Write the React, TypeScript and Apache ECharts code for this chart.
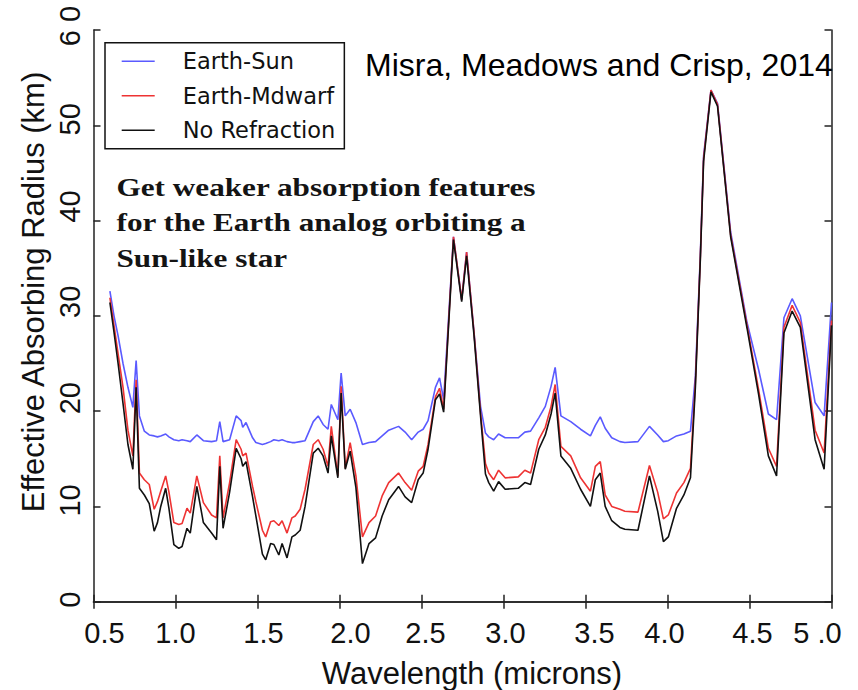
import React, { useEffect, useRef } from "react";
import * as echarts from "echarts";

// Wavelength grid (microns) shared by the three spectra
const wavelength = [
  0.6, 0.625, 0.65, 0.68, 0.71, 0.74, 0.76, 0.78, 0.81, 0.84, 0.87, 0.89, 0.91, 0.94, 0.96, 0.99,
  1.02, 1.04, 1.07, 1.09, 1.13, 1.17, 1.22, 1.25, 1.27, 1.29, 1.33, 1.37, 1.4, 1.41, 1.43, 1.47,
  1.49, 1.53, 1.55, 1.58, 1.6, 1.63, 1.65, 1.68, 1.71, 1.73, 1.76, 1.79, 1.84, 1.87, 1.9, 1.93,
  1.95, 1.99, 2.01, 2.035, 2.065, 2.1, 2.14, 2.18, 2.22, 2.26, 2.3, 2.36, 2.4, 2.44, 2.48, 2.51,
  2.54, 2.585, 2.61, 2.635, 2.695, 2.745, 2.775, 2.82, 2.86, 2.89, 2.91, 2.94, 2.97, 3.01, 3.09,
  3.13, 3.165, 3.215, 3.255, 3.29, 3.315, 3.35, 3.41, 3.47, 3.53, 3.56, 3.59, 3.62, 3.66, 3.71,
  3.74, 3.82, 3.89, 3.94, 3.975, 4.005, 4.055, 4.1, 4.14, 4.17, 4.2, 4.22, 4.265, 4.305, 4.385,
  4.485, 4.555, 4.615, 4.665, 4.71, 4.76, 4.81, 4.9, 4.955, 5.0,
];

// Effective absorbing radius (km)
const earthSun = [
  32.6, 30.0, 27.9, 25.0, 22.5, 20.4, 25.3, 19.5, 17.9, 17.5, 17.4, 17.3, 17.4, 17.6, 17.3, 17.0,
  16.9, 17.0, 16.9, 16.8, 17.5, 16.9, 16.8, 16.9, 18.9, 16.8, 17.0, 19.5, 19.0, 18.3, 18.8, 17.2,
  16.7, 16.5, 16.6, 16.8, 17.0, 16.9, 17.0, 16.8, 16.7, 16.7, 16.8, 16.9, 18.9, 19.5, 18.6, 18.1,
  20.7, 19.1, 24.0, 19.5, 20.2, 18.8, 16.5, 16.7, 16.8, 17.4, 18.0, 18.4, 17.8, 17.0, 17.8, 18.1,
  19.0, 22.5, 23.5, 21.2, 38.3, 31.7, 36.7, 28.3, 20.5, 17.7, 17.3, 17.0, 17.6, 17.2, 17.2,
  17.8, 17.9, 19.3, 20.5, 22.6, 24.6, 19.5, 18.9, 18.1, 17.4, 18.5, 19.4, 18.2, 17.2, 16.8,
  16.7, 16.8, 18.4, 17.5, 16.8, 16.9, 17.4, 17.6, 17.9, 23.7, 36.3, 46.8, 53.7, 52.3, 38.8,
  29.3, 24.4, 19.7, 19.1, 29.8, 31.8, 30.0, 20.9, 19.5, 31.4,
];

const earthMdwarf = [
  31.9, 29.0, 26.0, 22.5, 18.0, 15.3, 23.3, 13.5, 12.8, 12.3, 9.7, 10.5, 11.6, 13.2, 11.5, 8.3,
  8.1, 8.2, 9.8, 9.3, 13.2, 10.4, 9.1, 8.8, 15.3, 8.8, 12.5, 17.0, 16.0, 15.3, 15.6, 12.1,
  10.5, 7.5, 6.8, 8.4, 8.5, 8.0, 8.5, 7.2, 8.8, 9.0, 9.7, 11.8, 16.5, 17.0, 16.0, 14.2,
  18.4, 13.2, 22.6, 14.0, 16.7, 13.2, 6.8, 8.3, 9.0, 11.1, 12.5, 13.5, 12.5, 11.7, 13.7, 14.2,
  16.5, 21.5, 22.4, 20.2, 38.3, 31.7, 36.7, 28.3, 19.8, 14.5, 13.5, 12.8, 13.8, 13.0, 13.1,
  13.8, 13.5, 17.0, 18.3, 20.5, 22.8, 16.3, 15.3, 13.0, 11.6, 14.2, 14.7, 11.2, 10.0, 9.7,
  9.5, 9.4, 14.3, 11.5, 8.7, 9.1, 11.4, 12.5, 14.0, 23.0, 36.0, 46.5, 53.7, 52.2, 38.5,
  29.0, 22.3, 16.1, 14.2, 28.8, 31.1, 29.3, 18.0, 15.6, 29.5,
];

const noRefraction = [
  31.4, 28.3, 25.0, 20.8, 16.5, 13.9, 22.5, 11.9, 11.2, 10.3, 7.4, 8.3, 10.0, 11.9, 9.8, 6.0,
  5.6, 5.8, 7.7, 7.2, 12.1, 8.3, 7.2, 6.5, 14.2, 7.7, 11.5, 16.1, 15.0, 14.2, 14.7, 11.0,
  9.0, 5.0, 4.4, 6.1, 6.0, 4.9, 6.1, 4.6, 6.8, 7.0, 7.5, 10.0, 15.6, 16.1, 15.3, 13.5,
  17.4, 13.0, 21.9, 13.9, 15.8, 12.0, 4.0, 6.1, 6.7, 9.0, 10.7, 12.1, 11.0, 10.4, 12.8, 13.5,
  16.0, 21.2, 21.8, 19.9, 38.0, 31.5, 36.3, 28.0, 19.5, 13.4, 12.5, 11.6, 12.6, 11.8, 11.9,
  12.5, 12.3, 16.0, 17.5, 19.7, 21.9, 15.3, 14.0, 11.8, 10.0, 12.8, 13.5, 10.0, 8.5, 7.8,
  7.6, 7.5, 13.2, 9.5, 6.3, 6.8, 9.8, 11.2, 13.0, 22.5, 35.8, 46.2, 53.5, 52.0, 38.3,
  28.7, 21.8, 15.3, 13.2, 28.2, 30.5, 28.8, 17.0, 13.9, 29.0,
];

const seriesNames = ["Earth-Sun", "Earth-Mdwarf", "No Refraction"];
const seriesColors = ["#5a5aff", "#ee3333", "#111111"];

const xTickLabels = ["0.5", "1.0", "1.5", "2.0", "2.5", "3.0", "3.5", "4.0", "4.5", "5 .0"];
const yTickLabels = ["0", "10", "20", "30", "40", "50", "6 0"];

// small hand-set nudges of the tick labels (px): x rightward, y upward
const xLabelNudge = [11, 0, 6, 11, 4, 2, 9, -3, 3, -14];
const yLabelNudge = [2, 6, 13, 14, 14, 6, 4];

const SANS = '"Liberation Sans", Arial, Helvetica, sans-serif';

function nudgedRich(prefix: string, nudges: number[], base: Record<string, unknown>) {
  const rich: Record<string, unknown> = {};
  nudges.forEach((d, i) => {
    rich[prefix + i] = {
      ...base,
      padding: d >= 0 ? [0, 0, 0, 2 * d] : [0, -2 * d, 0, 0],
    };
  });
  return rich;
}

export default function App() {
  const ref = useRef<HTMLDivElement>(null);

  useEffect(() => {
    if (!ref.current) return;
    const chart = echarts.init(ref.current, null, { renderer: "svg" });

    const labelBase = { fontFamily: SANS, fontSize: 29, color: "#111" };
    const frameLine = { show: true, lineStyle: { color: "#222", width: 1.5 } };
    const innerTick = { show: true, inside: true, length: 7, lineStyle: { color: "#222", width: 1.5 } };

    const xBase = {
      type: "value" as const,
      min: 0.5,
      max: 5.0,
      interval: 0.5,
      axisLine: frameLine,
      axisTick: innerTick,
      splitLine: { show: false },
    };
    const yBase = {
      type: "value" as const,
      min: 0,
      max: 60,
      interval: 10,
      axisLine: frameLine,
      axisTick: innerTick,
      splitLine: { show: false },
    };

    const makeData = (vals: number[]) => wavelength.map((w, i) => [w, vals[i]]);

    chart.setOption({
      animation: false,
      backgroundColor: "#ffffff",
      grid: { left: 93.5, right: 26.5, top: 30, bottom: 88.3 },
      xAxis: [
        {
          ...xBase,
          position: "bottom",
          axisLabel: {
            show: true,
            showMinLabel: true,
            showMaxLabel: true,
            margin: 17,
            ...labelBase,
            formatter: (v: number) => {
              const i = Math.round((v - 0.5) / 0.5);
              return `{x${i}|${xTickLabels[i]}}`;
            },
            rich: nudgedRich("x", xLabelNudge, labelBase),
          },
        },
        { ...xBase, position: "top", axisLabel: { show: false } },
      ],
      yAxis: [
        {
          ...yBase,
          position: "left",
          axisLabel: {
            show: true,
            showMinLabel: true,
            showMaxLabel: true,
            rotate: 90,
            margin: 9,
            ...labelBase,
            formatter: (v: number) => {
              const i = Math.round(v / 10);
              return `{y${i}|${yTickLabels[i]}}`;
            },
            rich: nudgedRich("y", yLabelNudge, labelBase),
          },
        },
        { ...yBase, position: "right", axisLabel: { show: false } },
      ],
      legend: {
        data: seriesNames.map((name) => ({ name, icon: "rect" })),
        orient: "vertical",
        left: 105,
        top: 42.7,
        padding: [7, 9, 7, 16.7],
        itemWidth: 33,
        itemHeight: 1.6,
        itemGap: 11.5,
        backgroundColor: "#ffffff",
        borderColor: "#111",
        borderWidth: 1.5,
        borderRadius: 0,
        textStyle: {
          fontFamily: '"DejaVu Sans", sans-serif',
          fontSize: 22.5,
          lineHeight: 23,
          color: "#111",
          padding: [0, 0, 0, 23],
        },
      },
      series: seriesNames.map((name, k) => ({
        name,
        type: "line",
        data: makeData([earthSun, earthMdwarf, noRefraction][k]),
        symbol: "none",
        showSymbol: false,
        lineStyle: { color: seriesColors[k], width: 1.6 },
        itemStyle: { color: seriesColors[k] },
        z: 2 + k,
      })),
      graphic: [
        {
          type: "text",
          x: 33,
          y: 292,
          rotation: Math.PI / 2,
          style: {
            text: "Effective Absorbing Radius (km)",
            font: `31px ${SANS}`,
            fill: "#111",
            align: "center",
            verticalAlign: "middle",
            textAlign: "center",
            textVerticalAlign: "middle",
          },
        },
        {
          type: "text",
          x: 472,
          y: 673,
          style: {
            text: "Wavelength (microns)",
            font: `31px ${SANS}`,
            fill: "#111",
            align: "center",
            verticalAlign: "middle",
            textAlign: "center",
            textVerticalAlign: "middle",
          },
        },
        {
          type: "text",
          x: 365,
          y: 65,
          z: 100,
          style: {
            text: "Misra, Meadows and Crisp, 2014",
            font: `32px ${SANS}`,
            fill: "#000",
            align: "left",
            verticalAlign: "middle",
            textAlign: "left",
            textVerticalAlign: "middle",
          },
        },
        {
          type: "text",
          x: 116.5,
          y: 222,
          scaleX: 1.2,
          z: 100,
          style: {
            text: "Get weaker absorption features\nfor the Earth analog orbiting a\nSun-like star",
            font: 'bold 26px "Liberation Serif", "Times New Roman", serif',
            lineHeight: 35.5,
            fill: "#141414",
            align: "left",
            verticalAlign: "middle",
            textAlign: "left",
            textVerticalAlign: "middle",
          },
        },
      ],
    });

    return () => chart.dispose();
  }, []);

  return (
    <div
      ref={ref}
      style={{ position: "fixed", left: 0, top: 0, width: 858, height: 690 }}
    />
  );
}
